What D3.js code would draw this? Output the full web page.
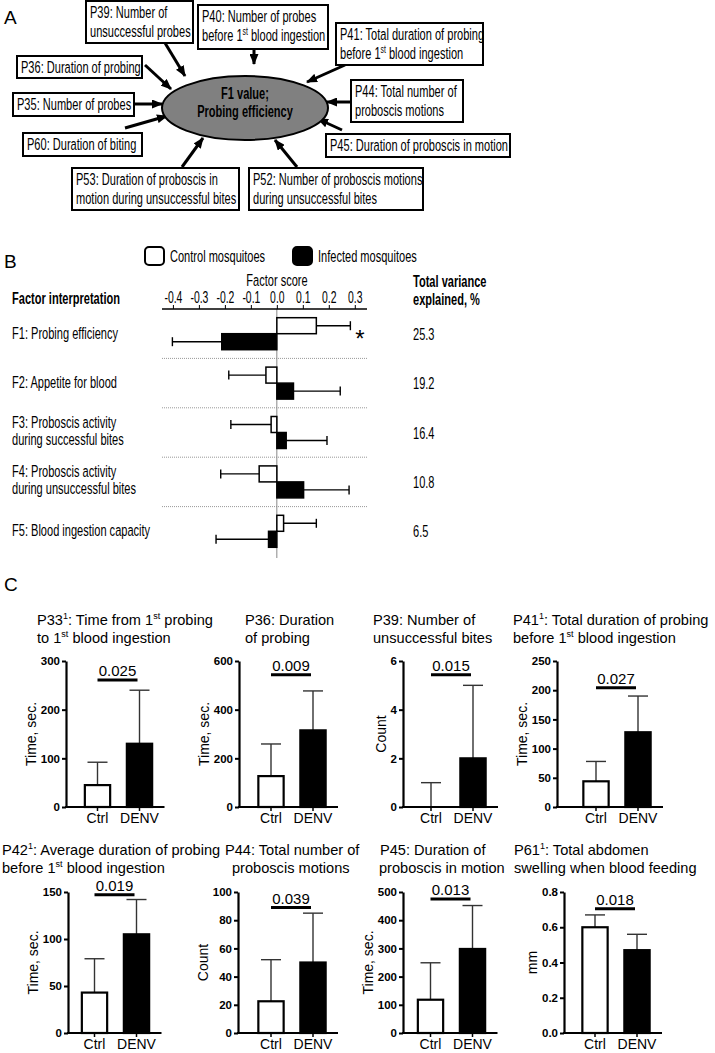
<!DOCTYPE html>
<html><head><meta charset="utf-8">
<script src="https://cdn.jsdelivr.net/npm/d3@7"></script>
<style>body{margin:0;background:#fff}svg{display:block}text{font-family:"Liberation Sans",Arial,sans-serif}</style>
</head><body>
<svg id="fig" width="715" height="1053"></svg>
<script>
// ================= DATA =================
// Panel A: parameters loading on F1
const aCenter = ["F1 value;", "Probing efficiency"];
const aParams = [
  ["P39: Number of", "unsuccessful probes"],
  ["P40: Number of probes", "before 1{st} blood ingestion"],
  ["P41: Total duration of probing", "before 1{st} blood ingestion"],
  ["P36: Duration of probing"],
  ["P35: Number of probes"],
  ["P44: Total number of", "proboscis motions"],
  ["P60: Duration of biting"],
  ["P45: Duration of proboscis in motion"],
  ["P53: Duration of proboscis  in", "motion during unsuccessful bites"],
  ["P52: Number of proboscis motions", "during unsuccessful bites"]
];

// Panel B: factor scores
const factorLabels = [
  ["F1: Probing efficiency"],
  ["F2: Appetite for blood"],
  ["F3: Proboscis activity", "during successful bites"],
  ["F4: Proboscis activity", "during unsuccessful bites"],
  ["F5: Blood ingestion capacity"]
];
const controlScore = [0.152, -0.042, -0.022, -0.068, 0.026];
const controlErr   = [0.131, 0.143, 0.155, 0.148, 0.126];
const infectedScore = [-0.212, 0.064, 0.036, 0.103, -0.032];
const infectedErr   = [0.190, 0.180, 0.157, 0.175, 0.202];
const varianceExplained = ["25.3", "19.2", "16.4", "10.8", "6.5"];
const significant = [true, false, false, false, false];
const factorTicks = [-0.4, -0.3, -0.2, -0.1, 0.0, 0.1, 0.2, 0.3];
const legendLabels = ["Control mosquitoes", "Infected mosquitoes"];

// Panel C: individual parameters
const groups = ["Ctrl", "DENV"];
const cTitles = [
  ["P33{1}: Time from 1{st} probing", "to 1{st} blood ingestion"],
  ["P36: Duration", "of probing"],
  ["P39: Number of", "unsuccessful bites"],
  ["P41{1}: Total duration of probing", "before 1{st} blood ingestion"],
  ["P42{1}: Average duration of probing", "before 1{st} blood ingestion"],
  ["P44: Total number of", "proboscis motions"],
  ["P45: Duration of", "proboscis in motion"],
  ["P61{1}: Total abdomen", "swelling when blood feeding"]
];
const cYLabels = ["Time, sec.", "Time, sec.", "Count", "Time, sec.", "Time, sec.", "Count", "Time, sec.", "mm"];
const cYMax  = [300, 600, 6, 250, 150, 100, 500, 0.8];
const cYStep = [100, 200, 2, 50, 50, 20, 100, 0.2];
const ctrlMean = [45, 127, 0, 44, 43, 22.5, 118, 0.60];
const ctrlSD   = [47, 132, 1, 34, 36, 29.5, 131, 0.07];
const denvMean = [130, 315, 2, 128, 105, 50, 298, 0.47];
const denvSD   = [110, 162, 3, 62, 37, 35, 154, 0.09];
const pValues  = ["0.025", "0.009", "0.015", "0.027", "0.019", "0.039", "0.013", "0.018"];
const sigLevel = [261, 543, 5.43, 204, 147, 89, 475, 0.705];

// ================= LAYOUT =================
const svg = d3.select("#fig");
const K = 0.65; // horizontal condensing of panels A and B text
const FS = 17;

function rich(t, s, fs) {
  const parts = s.split(/\{([^}]*)\}/);
  let raised = false;
  parts.forEach((p, i) => {
    if (!p) return;
    const ts = t.append("tspan").text(p);
    if (i % 2 === 1) {
      ts.attr("font-size", fs * 0.62).attr("dy", -fs * 0.38);
      raised = true;
    } else if (raised) {
      ts.attr("dy", fs * 0.38);
      raised = false;
    }
  });
  return t;
}
function ntext(parent, x, y, s, fs, opts = {}) {
  const g = parent.append("g").attr("transform", `translate(${x},${y}) scale(${K},1)`);
  const t = g.append("text").attr("font-size", fs).attr("text-anchor", opts.anchor || "start")
    .attr("font-weight", opts.weight || "normal").attr("fill", "#000");
  rich(t, s, fs);
  return t;
}

// ---------- Panel A ----------
const A = svg.append("g");
A.append("text").attr("x", 4).attr("y", 24).attr("font-size", 19).text("A");
const aBoxes = [
  [86, 1, 107, 42], [198, 5, 130, 44], [336, 23, 147, 42], [17, 56, 125, 22], [13, 93, 121, 23],
  [351, 80, 112, 42], [23, 133, 119, 23], [326, 134, 184, 23], [72, 168, 167, 42], [249, 168, 174, 42]
];
const aArrows = [
  [165, 43, 185, 76], [254, 49, 254, 64], [345, 65, 307, 82], [145, 65, 171, 89], [134, 104, 162, 104],
  [351, 102, 327, 102], [125, 128, 167, 116], [342, 130, 318, 119], [182, 167, 203, 138], [297, 167, 275, 140]
];
const defs = svg.append("defs");
defs.append("marker").attr("id", "ah").attr("markerUnits", "userSpaceOnUse")
  .attr("markerWidth", 11).attr("markerHeight", 9).attr("refX", 10).attr("refY", 4.5).attr("orient", "auto")
  .append("path").attr("d", "M0,0 L11,4.5 L0,9 Z").attr("fill", "#000");
aArrows.forEach(a => {
  A.append("line").attr("x1", a[0]).attr("y1", a[1]).attr("x2", a[2]).attr("y2", a[3])
    .attr("stroke", "#000").attr("stroke-width", 3).attr("marker-end", "url(#ah)");
});
aBoxes.forEach((b, i) => {
  A.append("rect").attr("x", b[0]).attr("y", b[1]).attr("width", b[2]).attr("height", b[3])
    .attr("fill", "#fff").attr("stroke", "#000").attr("stroke-width", 2);
  aParams[i].forEach((ln, j) => ntext(A, b[0] + 4, b[1] + 17 + j * 19, ln, FS));
});
A.append("ellipse").attr("cx", 245).attr("cy", 108).attr("rx", 83).attr("ry", 32)
  .attr("fill", "#808080").attr("stroke", "#000").attr("stroke-width", 2);
aCenter.forEach((ln, j) => ntext(A, 245, 99 + j * 18, ln, FS, {anchor: "middle", weight: "bold"}));

// ---------- Panel B ----------
const B = svg.append("g");
B.append("text").attr("x", 4).attr("y", 268).attr("font-size", 19).text("B");
const legX = [145, 293];
legendLabels.forEach((l, i) => {
  B.append("rect").attr("x", legX[i]).attr("y", 247).attr("width", 19).attr("height", 18).attr("rx", 4)
    .attr("fill", i ? "#000" : "#fff").attr("stroke", "#000").attr("stroke-width", 2);
  ntext(B, legX[i] + 25, 262, l, FS);
});
ntext(B, 277, 286, "Factor score", FS, {anchor: "middle"});
ntext(B, 12, 304, "Factor interpretation", FS, {weight: "bold"});
ntext(B, 413, 287, "Total variance", FS, {weight: "bold"});
ntext(B, 413, 305, "explained, %", FS, {weight: "bold"});

const xB = d3.scaleLinear().domain([-0.442, 0.347]).range([162, 367]);
const fIds = factorLabels.map((d, i) => "F" + (i + 1));
const rowB = d3.scaleBand().domain(fIds).range([309, 556]);
const serB = d3.scaleBand().domain(["ctrl", "inf"]).range([8.7, 40.7]);

fIds.slice(1).forEach(f => {
  B.append("line").attr("x1", 162).attr("x2", 367).attr("y1", rowB(f)).attr("y2", rowB(f))
    .attr("stroke", "#999").attr("stroke-width", 1).attr("stroke-dasharray", "1,1");
});
B.append("line").attr("x1", xB(0)).attr("x2", xB(0)).attr("y1", 309).attr("y2", 558)
  .attr("stroke", "#888").attr("stroke-width", 1);

const axB = B.append("g").attr("transform", "translate(0,309)")
  .call(d3.axisTop(xB).tickValues(factorTicks).tickSize(4).tickSizeOuter(0).tickPadding(2).tickFormat(d => d.toFixed(1)));
axB.select(".domain").attr("stroke-width", 1.5).attr("d", "M162,0H367");
axB.selectAll(".tick line").attr("stroke-width", 1);
axB.selectAll(".tick text").attr("font-size", 16).attr("font-family", '"Liberation Sans",Arial,sans-serif')
  .attr("transform", `scale(${K},1)`).attr("fill", "#000");

const series = [
  {key: "ctrl", val: controlScore, err: controlErr, fill: "#fff"},
  {key: "inf", val: infectedScore, err: infectedErr, fill: "#000"}
];
fIds.forEach((f, i) => {
  const c = rowB(f) + rowB.bandwidth() / 2;
  series.forEach(s => {
    const v = s.val[i], y0 = rowB(f) + serB(s.key), h = serB.bandwidth();
    const end = v + Math.sign(v) * s.err[i];
    B.append("line").attr("x1", xB(v)).attr("x2", xB(end)).attr("y1", y0 + h / 2).attr("y2", y0 + h / 2)
      .attr("stroke", "#000").attr("stroke-width", 1.4);
    B.append("line").attr("x1", xB(end)).attr("x2", xB(end)).attr("y1", y0 + h / 2 - 4.5).attr("y2", y0 + h / 2 + 4.5)
      .attr("stroke", "#000").attr("stroke-width", 1.4);
    B.append("rect").attr("x", xB(Math.min(0, v))).attr("y", y0)
      .attr("width", Math.abs(xB(v) - xB(0))).attr("height", h)
      .attr("fill", s.fill).attr("stroke", "#000").attr("stroke-width", 1.5);
  });
  const lines = factorLabels[i];
  if (lines.length === 1) ntext(B, 12, c + 5, lines[0], FS);
  else lines.forEach((ln, j) => ntext(B, 12, c - 5 + j * 17.5, ln, FS));
  ntext(B, 413, c + 6, varianceExplained[i], FS);
  if (significant[i]) B.append("text").attr("x", 360).attr("y", c + 13).attr("text-anchor", "middle")
    .attr("font-size", 24).text("*");
});

// ---------- Panel C ----------
const C = svg.append("g");
C.append("text").attr("x", 4).attr("y", 591).attr("font-size", 19).text("C");
const cLayout = [
  {ax: 66, top: 661, bot: 807, b0: 76.5, tx: [37, 37], ty: [625, 643]},
  {ax: 239, top: 661, bot: 807, b0: 250, tx: [245, 245], ty: [625, 643]},
  {ax: 403, top: 661, bot: 807, b0: 410, tx: [373, 373], ty: [625, 643]},
  {ax: 557, top: 661, bot: 807, b0: 575, tx: [513, 513], ty: [625, 643]},
  {ax: 68, top: 892, bot: 1033, b0: 73.5, tx: [2, 2], ty: [855, 873]},
  {ax: 238, top: 892, bot: 1033, b0: 250, tx: [225, 232], ty: [855, 873]},
  {ax: 403, top: 892, bot: 1033, b0: 409.5, tx: [380, 379], ty: [855, 873]},
  {ax: 564, top: 892, bot: 1033, b0: 574, tx: [514, 514], ty: [855, 873]}
];
cLayout.forEach((L, i) => {
  const g = C.append("g");
  const y = d3.scaleLinear().domain([0, cYMax[i]]).range([L.bot, L.top]);
  const x = d3.scaleBand().domain(groups).range([L.b0, L.b0 + 84]).paddingInner(0.35).paddingOuter(0.175);
  const bw = x.bandwidth();
  cTitles[i].forEach((ln, j) => {
    const t = g.append("text").attr("x", L.tx[j]).attr("y", L.ty[j]).attr("font-size", 14.6);
    rich(t, ln, 14.6);
  });
  const means = [ctrlMean[i], denvMean[i]], sds = [ctrlSD[i], denvSD[i]];
  groups.forEach((gr, k) => {
    const cx = x(gr) + bw / 2;
    g.append("line").attr("x1", cx).attr("x2", cx).attr("y1", y(means[k])).attr("y2", y(means[k] + sds[k]))
      .attr("stroke", "#333").attr("stroke-width", 1.4);
    g.append("line").attr("x1", cx - 10).attr("x2", cx + 10).attr("y1", y(means[k] + sds[k])).attr("y2", y(means[k] + sds[k]))
      .attr("stroke", "#333").attr("stroke-width", 1.4);
    if (means[k] > 0) {
      g.append("rect").attr("x", x(gr) + 1).attr("y", y(means[k]))
        .attr("width", bw - 2).attr("height", y(0) - y(means[k]))
        .attr("fill", k ? "#000" : "#fff").attr("stroke", "#000").attr("stroke-width", 2.2);
    }
  });
  const ticks = d3.range(0, cYMax[i] + cYStep[i] / 2, cYStep[i]);
  const fmt = cYMax[i] < 1 ? (d => d.toFixed(1)) : (d => d3.format("d")(Math.round(d)));
  const ya = g.append("g").attr("transform", `translate(${L.ax},0)`)
    .call(d3.axisLeft(y).tickValues(ticks).tickSize(4).tickSizeOuter(0).tickPadding(2).tickFormat(fmt));
  ya.select(".domain").attr("stroke-width", 2.2);
  ya.selectAll(".tick line").attr("stroke-width", 2);
  ya.selectAll(".tick text").attr("font-size", 11.5).attr("font-weight", "bold")
    .attr("font-family", '"Liberation Sans",Arial,sans-serif').attr("fill", "#000");
  let tickLeft = L.ax;
  ya.selectAll(".tick text").each(function () {
    const bb = this.getBBox();
    tickLeft = Math.min(tickLeft, L.ax + bb.x);
  });
  g.append("line").attr("x1", L.ax - 1).attr("x2", L.b0 + 88).attr("y1", L.bot).attr("y2", L.bot)
    .attr("stroke", "#000").attr("stroke-width", 2.2);
  groups.forEach(gr => {
    const cx = x(gr) + bw / 2;
    g.append("line").attr("x1", cx).attr("x2", cx).attr("y1", L.bot).attr("y2", L.bot + 4)
      .attr("stroke", "#000").attr("stroke-width", 1.5);
    g.append("text").attr("x", cx).attr("y", L.bot + 15.5).attr("text-anchor", "middle").attr("font-size", 14).text(gr);
  });
  g.append("text").attr("transform", `translate(${tickLeft - 5},${(L.top + L.bot) / 2}) rotate(-90)`)
    .attr("text-anchor", "middle").attr("font-size", 14).text(cYLabels[i]);
  const x1 = x("Ctrl") + bw / 2, x2 = x("DENV") + bw / 2 - 2;
  g.append("line").attr("x1", x1).attr("x2", x2).attr("y1", y(sigLevel[i])).attr("y2", y(sigLevel[i]))
    .attr("stroke", "#000").attr("stroke-width", 3);
  g.append("text").attr("x", (x1 + x2) / 2).attr("y", y(sigLevel[i]) - 4).attr("text-anchor", "middle")
    .attr("font-size", 15).text(pValues[i]);
});
</script>
</body></html>
